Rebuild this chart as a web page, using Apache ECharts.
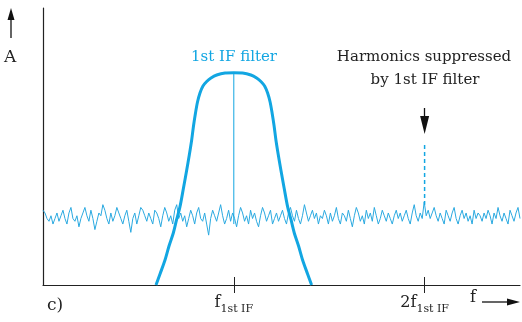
<!DOCTYPE html>
<html><head><meta charset="utf-8">
<script src="https://cdn.jsdelivr.net/npm/echarts@6/dist/echarts.min.js"></script>
<style>html,body{margin:0;padding:0;background:#fff}#c{width:522px;height:322px}</style>
</head><body><div id="c"></div>
<script>
// Tick positions / labels
const tickValues = [40, 80];
const tickLabels = ['{f|f}{s|1st IF}', '{f|2f}{s|1st IF}'];
// 1st IF filter passband (left half, mirrored about f = 40)
const filterX = [23.69, 24.53, 25.58, 26.42, 27.32, 27.99, 28.72, 29.45, 30.13, 30.67, 31.17, 31.55, 31.97, 32.39, 32.91, 33.54, 34.32, 35.22, 36.42, 38.16, 40.0];
const filterY = [0, 3.97, 9.03, 14.08, 18.77, 23.47, 28.27, 35.02, 41.52, 46.93, 52.35, 57.40, 62.09, 66.06, 69.31, 71.84, 73.47, 74.73, 75.81, 76.53, 76.64];
// Noise floor samples read across the spectrum
const noiseY = [
27,26,24,23,25,22,24,26,23,25,27,24,22,26,28,24,23,25,21,24,
26,28,25,23,27,24,20,23,26,25,29,27,24,22,26,23,25,28,26,24,
22,25,27,23,19,24,26,22,25,28,27,25,23,26,24,22,27,26,24,21,
25,28,26,23,25,22,27,29,24,26,23,25,21,24,27,25,22,26,28,24,
23,26,22,18,24,27,25,23,26,29,25,22,24,27,23,26,24,21,25,28,
26,23,25,22,27,24,26,23,21,25,28,26,23,25,27,22,24,26,23,25,
27,24,22,26,28,25,23,27,24,22,25,29,26,23,25,27,24,26,22,25,
24,27,25,22,26,23,25,28,24,22,26,25,23,27,24,21,25,28,26,23,
25,22,27,24,26,23,28,25,22,24,27,25,23,26,24,22,25,27,24,26,
23,25,27,24,22,26,29,25,23,26,24,30,25,27,24,26,28,25,23,26,
24,22,27,25,23,26,28,24,22,25,27,24,26,23,25,22,27,24,26,25,
23,26,24,27,25,22,26,24,28,25,23,26,24,22,27,25,23,26,28,24
];
// center marker of filter, harmonic (suppressed) and pointer arrow
const centerLine = [[40, 76.6], [40, 22]];
const harmonicLine = [[80, 50.5], [80, 29]];
const pointer = [[80, 63.9], [80, 57.8]];

const noiseData = noiseY.map((v, i) => [i * 100 / (noiseY.length - 1), v]);
const filterData = filterX.map((x, i) => [x, filterY[i]])
  .concat(filterX.slice(0, -1).reverse().map(x => [80 - x, filterY[filterX.indexOf(x)]]));

const FONT = 'DejaVu Serif';
const DARK = '#222';
const CYAN = '#12a6e2';

const chart = echarts.init(document.getElementById('c'), null, {renderer: 'canvas'});
chart.setOption({
  animation: false,
  grid: {left: 43, right: 2, top: 8, bottom: 37},
  xAxis: [{
    type: 'value', min: 0, max: 100,
    axisLine: {show: true, onZero: false, lineStyle: {color: DARK, width: 1.2}},
    axisTick: {show: true, length: 8, customValues: tickValues, lineStyle: {color: DARK, width: 1}},
    axisLabel: {
      show: true, margin: 5, customValues: tickValues,
      formatter: v => tickLabels[tickValues.indexOf(v)],
      rich: {
        f: {fontFamily: FONT, fontSize: 16, color: DARK},
        s: {fontFamily: FONT, fontSize: 11, color: DARK, padding: [14, 0, 0, 0]}
      }
    },
    splitLine: {show: false}
  }, {
    type: 'value', min: 0, max: 100, position: 'bottom', offset: 0,
    axisLine: {show: false},
    axisTick: {show: true, inside: true, length: 8, customValues: tickValues, lineStyle: {color: DARK, width: 1}},
    axisLabel: {show: false}, splitLine: {show: false}
  }],
  yAxis: {
    type: 'value', min: 0, max: 100,
    axisLine: {show: true, lineStyle: {color: DARK, width: 1.2}},
    axisTick: {show: false}, axisLabel: {show: false}, splitLine: {show: false}
  },
  series: [
    {type: 'line', data: noiseData, symbol: 'none', lineStyle: {color: '#2aa9e0', width: 1}, z: 2},
    {type: 'line', data: filterData, smooth: 0.3, symbol: 'none', lineStyle: {color: CYAN, width: 3, join: 'round'}, z: 3},
    {type: 'line', data: centerLine, symbol: 'none', lineStyle: {color: CYAN, width: 1}, z: 3},
    {type: 'line', data: harmonicLine, symbol: 'none', lineStyle: {color: CYAN, width: 1.5, type: [4, 3]}, z: 3},
    {type: 'line', data: [], markLine: {
      silent: true, symbol: ['none', 'triangle'], symbolSize: [9, 18],
      lineStyle: {color: '#111', width: 1.3, type: 'solid'}, label: {show: false},
      data: [[{coord: pointer[0]}, {coord: pointer[1]}]]
    }}
  ],
  graphic: [
    {type: 'line', shape: {x1: 11, y1: 38, x2: 11, y2: 16}, style: {stroke: '#111', lineWidth: 1.3}},
    {type: 'polygon', shape: {points: [[11, 8], [7.5, 20], [14.5, 20]]}, style: {fill: '#111'}},
    {type: 'text', left: 4, top: 49, style: {text: 'A', font: '17px "DejaVu Serif"', fill: DARK}},
    {type: 'text', left: 47, top: 297, style: {text: 'c)', font: '17px "DejaVu Serif"', fill: DARK}},
    {type: 'text', left: 470, top: 290, style: {text: 'f', font: '16px "DejaVu Serif"', fill: DARK}},
    {type: 'line', shape: {x1: 482, y1: 302, x2: 508, y2: 302}, style: {stroke: '#111', lineWidth: 1.3}},
    {type: 'polygon', shape: {points: [[520, 302], [507, 298.5], [507, 305.5]]}, style: {fill: '#111'}},
    {type: 'text', x: 234, y: 57, style: {text: '1st IF filter', font: '15px "DejaVu Serif"', fill: CYAN, align: 'center', verticalAlign: 'middle'}},
    {type: 'text', x: 424, y: 57, style: {text: 'Harmonics suppressed', font: '15px "DejaVu Serif"', fill: DARK, align: 'center', verticalAlign: 'middle'}},
    {type: 'text', x: 425, y: 80, style: {text: 'by 1st IF filter', font: '15px "DejaVu Serif"', fill: DARK, align: 'center', verticalAlign: 'middle'}}
  ]
});
</script></body></html>
